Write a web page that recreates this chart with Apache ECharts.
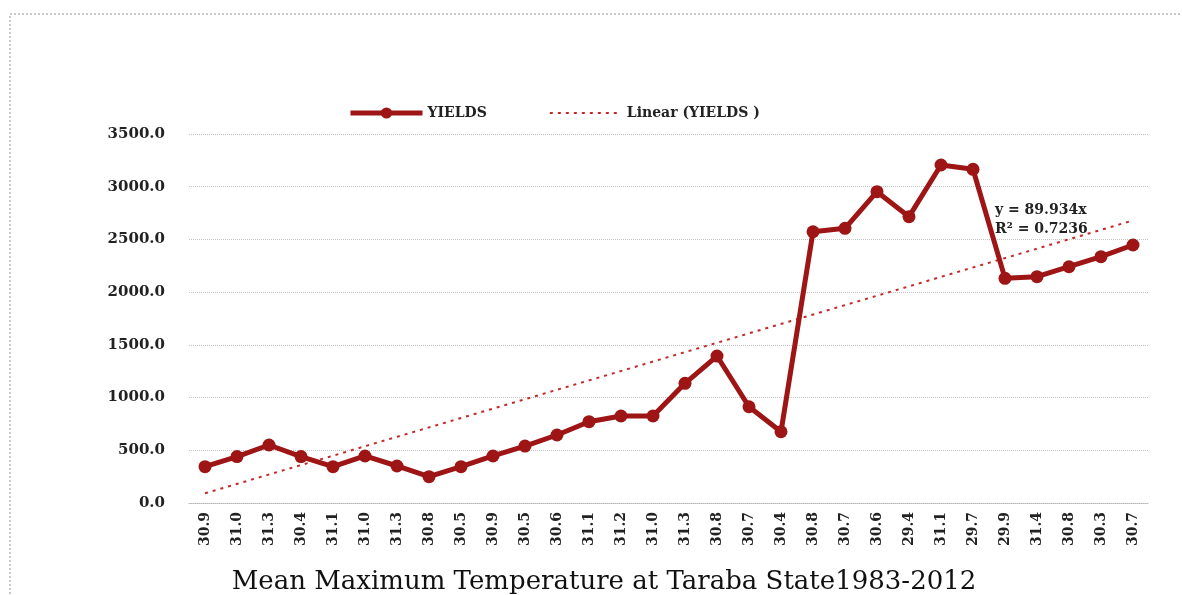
<!DOCTYPE html>
<html>
<head>
<meta charset="utf-8">
<script src="https://cdn.jsdelivr.net/npm/echarts@6/dist/echarts.min.js"></script>
<style>
html,body{margin:0;padding:0;background:#fff;}
#chart{width:1182px;height:595px;}
</style>
</head>
<body>
<div id="chart"></div>
<script>
// Category labels (mean maximum temperature, 1983-2012)
var categories = ['30.9','31.0','31.3','30.4','31.1','31.0','31.3','30.8','30.5','30.9',
                  '30.5','30.6','31.1','31.2','31.0','31.3','30.8','30.7','30.4','30.8',
                  '30.7','30.6','29.4','31.1','29.7','29.9','31.4','30.8','30.3','30.7'];
// Yields
var yields = [345, 440, 550, 440, 345, 446, 351, 250, 345, 446,
              540, 645, 771, 825, 825, 1135, 1394, 913, 676, 2573,
              2605, 2953, 2716, 3206, 3165, 2131, 2147, 2241, 2336, 2447];
// Linear trend line end values
var trendStart = 92;
var trendEnd = 2680;
var yTicks = [0, 500, 1000, 1500, 2000, 2500, 3000, 3500];
var titleText = 'Mean Maximum Temperature at Taraba State1983-2012';
var eqText = 'y = 89.934x';
var r2Text = 'R\u00B2 = 0.7236';

var trend = categories.map(function (c, i) {
  if (i === 0) return trendStart;
  if (i === categories.length - 1) return trendEnd;
  return null;
});

var chart = echarts.init(document.getElementById('chart'));
var serif = 'DejaVu Serif';
chart.setOption({
  animation: false,
  backgroundColor: '#fff',
  grid: { left: 189, right: 33, top: 134, bottom: 92, containLabel: false },
  legend: {
    left: 343, top: 101,
    itemGap: 62,
    textStyle: { fontFamily: serif, fontWeight: 'bold', fontSize: 14, color: '#222' },
    data: [
      { name: 'YIELDS', itemStyle: { color: '#9e1515' }, lineStyle: { width: 5, color: '#9e1515' } },
      { name: 'Linear (YIELDS )', itemStyle: { opacity: 0 }, lineStyle: { width: 2, color: '#c42a2a', type: [3, 5] } }
    ],
    itemWidth: 72, itemHeight: 14
  },
  xAxis: {
    type: 'category',
    data: categories,
    boundaryGap: true,
    axisLine: { lineStyle: { color: '#b5b5b5', type: 'dotted', width: 1 } },
    axisTick: { show: false },
    axisLabel: {
      rotate: 90, interval: 0, margin: 9,
      fontFamily: serif, fontWeight: 'bold', fontSize: 14, color: '#222'
    }
  },
  yAxis: {
    type: 'value',
    min: 0, max: 3500, interval: 500,
    axisLine: { show: false },
    axisTick: { show: false },
    splitLine: { lineStyle: { color: '#c4c4c4', type: 'dotted', width: 1 } },
    axisLabel: {
      margin: 24,
      fontFamily: serif, fontWeight: 'bold', fontSize: 15, color: '#222',
      formatter: function (v) { return v.toFixed(1); }
    }
  },
  series: [
    {
      name: 'YIELDS',
      type: 'line',
      data: yields,
      symbol: 'circle',
      symbolSize: 13,
      lineStyle: { color: '#9e1515', width: 5 },
      itemStyle: { color: '#9e1515' },
      z: 3
    },
    {
      name: 'Linear (YIELDS )',
      type: 'line',
      data: trend,
      connectNulls: true,
      symbol: 'none',
      lineStyle: { color: '#c42a2a', width: 2, type: [3, 5] },
      itemStyle: { color: '#c42a2a' },
      z: 2
    }
  ],
  graphic: [
    {
      type: 'rect',
      shape: { x: 10, y: 14, width: 1200, height: 620 },
      style: { fill: 'none', stroke: '#b8b8b8', lineWidth: 1.5, lineDash: [2, 2] },
      silent: true
    },
    {
      type: 'text', left: 995, top: 203,
      style: { text: eqText, fontFamily: serif, fontWeight: 'bold', fontSize: 14, fill: '#222' }
    },
    {
      type: 'text', left: 995, top: 222,
      style: { text: r2Text, fontFamily: serif, fontWeight: 'bold', fontSize: 14, fill: '#222' }
    },
    {
      type: 'text', x: 604, y: 569,
      style: { text: titleText, fontFamily: serif, fontSize: 26, fill: '#111', textAlign: 'center', textVerticalAlign: 'top' }
    }
  ]
});
</script>
</body>
</html>
